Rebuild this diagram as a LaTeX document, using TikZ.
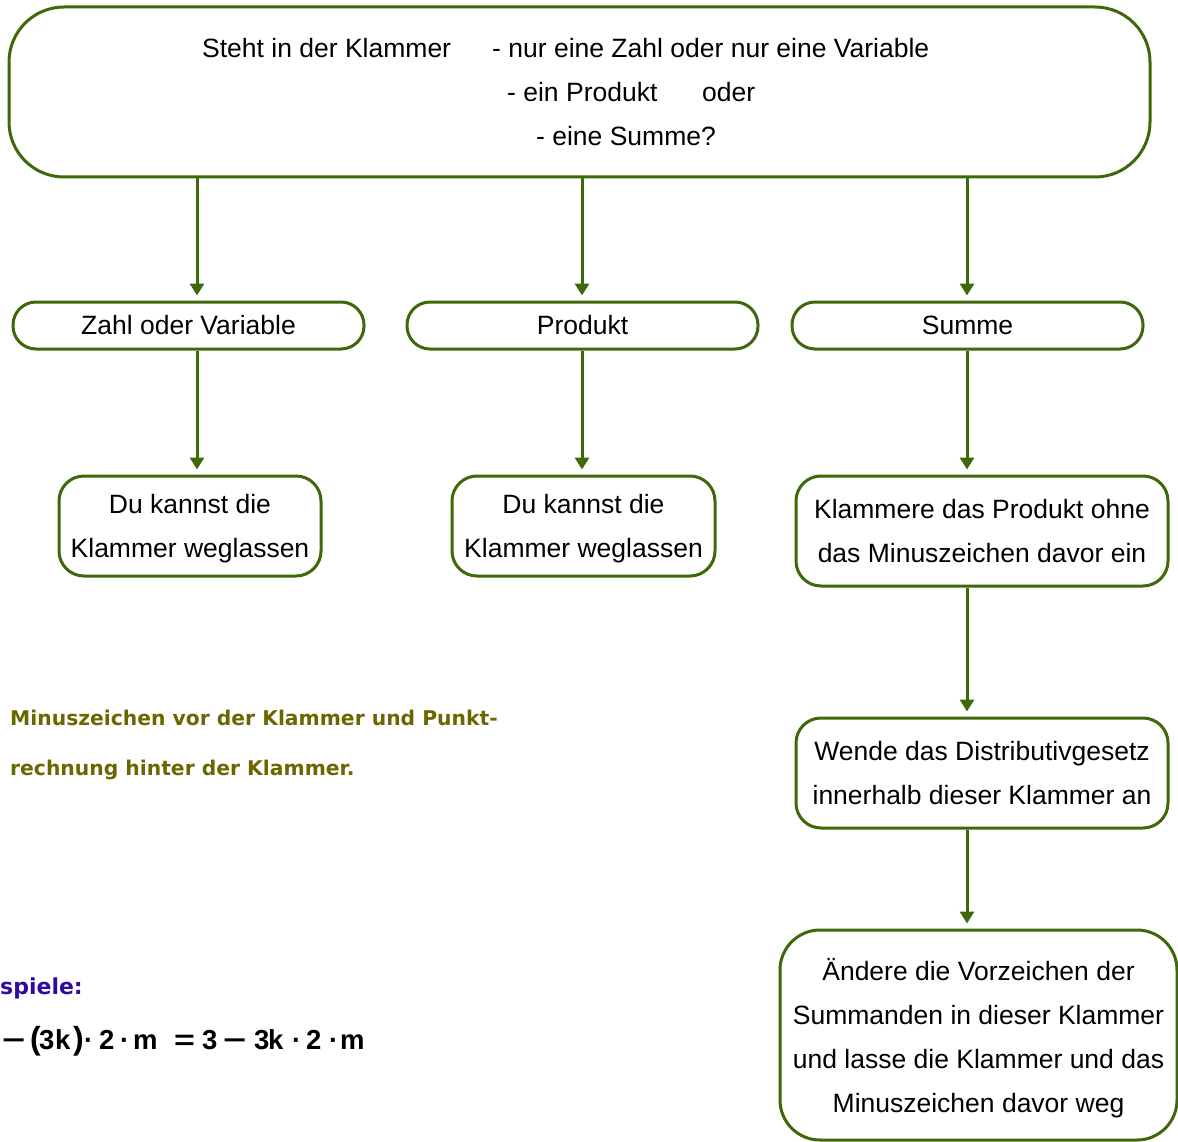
\documentclass[tikz,border=0pt]{standalone}
\usepackage{fontspec}
\setmainfont{Liberation Sans}
\newfontfamily\dejabold{DejaVu Sans}[BoldFont={DejaVu Sans Bold}]
\usetikzlibrary{arrows.meta}
\definecolor{boxgreen}{RGB}{62,104,10}
\definecolor{olivetext}{RGB}{107,102,0}
\definecolor{bluetext}{RGB}{51,10,160}
\newcommand\glyphat[2]{\makebox[0pt][l]{\hspace*{#1pt}#2}}
\begin{document}
\begin{tikzpicture}[x=1pt,y=-1pt,
  box/.style={draw=boxgreen, line width=3pt, fill=white, align=center, inner sep=0pt,
    font=\fontsize{26.5}{44}\selectfont},
  arr/.style={draw=boxgreen, line width=3pt, -{Triangle[width=14pt,length=12pt]}, shorten >=5pt},
  txt/.style={font=\fontsize{26.5}{44}\selectfont, inner sep=0pt, anchor=base west},
  note/.style={inner sep=0pt, anchor=base west, font=\dejabold\bfseries\fontsize{20.3}{24}\selectfont}]
\useasboundingbox (0,0) rectangle (1178,1142);

% top question box
\node[box, rounded corners=55pt, minimum width=1141pt, minimum height=170pt] (top) at (579.5,92) {};
\node[txt] (q1) at (202,57.5) {Steht in der Klammer};
\node[txt] (q2) at (492,57.5) {- nur eine Zahl oder nur eine Variable};
\node[txt] (q3) at (507,101.5) {- ein Produkt};
\node[txt] (q4) at (702,101.5) {oder};
\node[txt] (q5) at (536,145.5) {- eine Summe?};

% second row
\node[box, rounded corners=23pt, minimum width=351pt, minimum height=47pt] (zahl) at (188.5,325.5) {Zahl oder Variable};
\node[box, rounded corners=23pt, minimum width=351pt, minimum height=47pt] (prod) at (582.5,325.5) {Produkt};
\node[box, rounded corners=23pt, minimum width=351pt, minimum height=47pt] (summe) at (967.5,325.5) {Summe};

% third row
\node[box, rounded corners=25pt, minimum width=262pt, minimum height=100pt] (weg1) at (190,526)
  {Du kannst die\\\smash{Klammer weglassen}};
\node[box, rounded corners=25pt, minimum width=263pt, minimum height=100pt] (weg2) at (583.5,526)
  {Du kannst die\\\smash{Klammer weglassen}};
\node[box, rounded corners=25pt, minimum width=372pt, minimum height=110pt] (klam) at (982,531)
  {Klammere das Produkt ohne\\das Minuszeichen davor ein};
\node[box, rounded corners=25pt, minimum width=372pt, minimum height=110pt] (dist) at (982,773)
  {Wende das Distributivgesetz\\innerhalb dieser Klammer an};
\node[box, rounded corners=40pt, minimum width=397pt, minimum height=210pt] (aend) at (978.5,1035)
  {Ändere die Vorzeichen der\\Summanden in dieser Klammer\\und lasse die Klammer und das\\\smash{Minuszeichen davor weg}};

% arrow columns
\coordinate (c1) at (197,0);
\coordinate (c2) at (582,0);
\coordinate (c3) at (967,0);
\draw[arr] (top.south -| c1) -- (zahl.north -| c1);
\draw[arr] (top.south -| c2) -- (prod.north -| c2);
\draw[arr] (top.south -| c3) -- (summe.north -| c3);
\draw[arr] (zahl.south -| c1) -- (weg1.north -| c1);
\draw[arr] (prod.south -| c2) -- (weg2.north -| c2);
\draw[arr] (summe.south -| c3) -- (klam.north -| c3);
\draw[arr] (klam.south -| c3) -- (dist.north -| c3);
\draw[arr] (dist.south -| c3) -- (aend.north -| c3);

% left notes
\node[note, text=olivetext] (n1) at (10,725) {Minuszeichen vor der Klammer und Punkt-};
\node[note, text=olivetext] (n2) at (10,775) {rechnung hinter der Klammer.};
\node[note, text=bluetext, font=\dejabold\bfseries\fontsize{22}{26}\selectfont] (bsp) at (0,994) {spiele:};
\node[inner sep=0pt, anchor=base west, font=\bfseries\fontsize{27.5}{30}\selectfont] (form) at (0,1049)
  {\glyphat{2}{\scalebox{1.45}[1]{−}}%
   \glyphat{30}{\fontsize{32}{32}\selectfont(}%
   \glyphat{39}{3}\glyphat{55}{k}%
   \glyphat{73}{\fontsize{32}{32}\selectfont)}%
   \glyphat{84}{·}\glyphat{99}{2}\glyphat{120}{·}\glyphat{133}{m}%
   \glyphat{174}{\scalebox{1.3}[1]{=}}%
   \glyphat{202}{3}%
   \glyphat{223}{\scalebox{1.45}[1]{−}}%
   \glyphat{254}{3}\glyphat{268}{k}%
   \glyphat{292}{·}\glyphat{306}{2}\glyphat{329}{·}\glyphat{340}{m}%
   \hspace*{365pt}};
\end{tikzpicture}
\end{document}
